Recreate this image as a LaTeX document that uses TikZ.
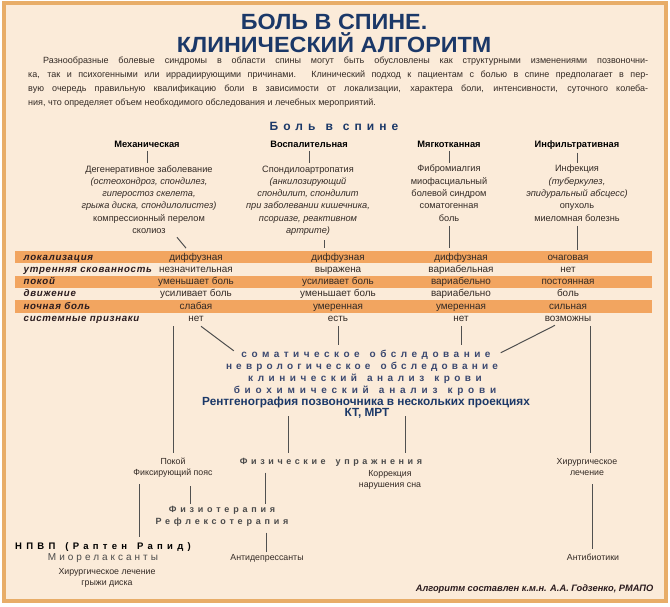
\documentclass[tikz,border=0pt]{standalone}
\usepackage{fontspec}
\setmainfont{Liberation Sans}
\newfontfamily\ttlfont[FakeStretch=1.06]{Liberation Sans}
\usetikzlibrary{calc}
\definecolor{bgc}{HTML}{FBEBD9}
\definecolor{framec}{HTML}{E8AD68}
\definecolor{bandc}{HTML}{F2A560}
\definecolor{navy}{HTML}{1B3868}
\definecolor{slate}{HTML}{3A4870}
\definecolor{ink}{HTML}{332A25}
\definecolor{lblc}{HTML}{2A1B1E}
\definecolor{linec}{HTML}{505050}
\definecolor{greyt}{HTML}{4A4A4A}
\newcommand{\LS}[2]{{\addfontfeature{LetterSpace=#1}#2}}
\newcommand{\fsz}[2]{\fontsize{#1}{#2}\selectfont}
\newcommand{\wg}{\hspace{10pt}}
\begin{document}
\begin{tikzpicture}[x=1pt,y=-1pt,
  every node/.style={inner sep=1.5pt},
  ttl/.style={anchor=base, font=\ttlfont\bfseries\fsz{22}{24}, text=navy},
  para/.style={anchor=base west, font=\fsz{9}{14}, text=ink, inner sep=0pt},
  cat/.style={anchor=base, font=\bfseries\fsz{9.3}{11}, text=black},
  desc/.style={anchor=base, font=\fsz{9.2}{12.3}, text=ink, align=center},
  rowlbl/.style={anchor=base west, font=\bfseries\itshape\fsz{9.7}{11}\addfontfeature{LetterSpace=7}, text=lblc},
  val/.style={anchor=base, font=\fsz{9.9}{11}, text=ink},
  exam/.style={anchor=base, font=\bfseries\fsz{10}{12}, text=slate},
  treat/.style={anchor=base, font=\fsz{8.8}{11.6}, text=ink, align=center},
  spc/.style={anchor=base, font=\bfseries\fsz{9}{12}, text=greyt, align=center},
  conn/.style={draw=linec, line width=1pt, shorten <=3pt, shorten >=3pt},
]
\useasboundingbox (0,0) rectangle (670,607);
\fill[white] (0,0) rectangle (670,607);
\fill[bgc] (4,3) rectangle (666,601);
\draw[framec, line width=4pt] (4,3) rectangle (666,601);

% title
\node[ttl] (t1) at (334,30) {БОЛЬ В СПИНЕ.};
\node[ttl] (t2) at (334,53) {КЛИНИЧЕСКИЙ АЛГОРИТМ};

% intro paragraph
\node[para] (p1) at (28,64) {\hspace*{15pt}\makebox[605pt][s]{Разнообразные болевые синдромы в области спины могут быть обусловлены как структурными изменениями позвоночни-}};
\node[para] (p2) at (28,78) {\makebox[620pt][s]{ка, так и психогенными или иррадиирующими причинами. Клинический подход к пациентам с болью в спине предполагает в пер-}};
\node[para] (p3) at (28,92) {\makebox[620pt][s]{вую очередь правильную квалификацию боли в зависимости от локализации, характера боли, интенсивности, суточного колеба-}};
\node[para] (p4) at (28,106) {ния, что определяет объем необходимого обследования и лечебных мероприятий.};

% heading
\node[anchor=base, font=\bfseries\fsz{12}{14}, text=navy] (pain) at (334,131) {\LS{42}{Боль\wg в\wg спине}};

% categories
\node[cat] (hm) at (147,148) {Механическая};
\node[cat] (hi) at (309,148) {Воспалительная};
\node[cat] (hs) at (449,148) {Мягкотканная};
\node[cat] (hf) at (577,148) {Инфильтративная};

% descriptions (base = last line)
\node[desc] (dm) at (149,233.5) {Дегенеративное заболевание\\ \textit{(остеохондроз, спондилез,}\\ \textit{гиперостоз скелета,}\\ \textit{грыжа диска, спондилолистез)}\\ компрессионный перелом\\ сколиоз};
\node[desc] (di) at (308,233.5) {Спондилоартропатия\\ \textit{(анкилозирующий}\\ \textit{спондилит, спондилит}\\ \textit{при заболевании кишечника,}\\ \textit{псориазе, реактивном}\\ \textit{артрите)}};
\node[desc] (ds) at (449,221.2) {Фибромиалгия\\ миофасциальный\\ болевой синдром\\ соматогенная\\ боль};
\node[desc] (df) at (577,221.2) {Инфекция\\ \textit{(туберкулез,}\\ \textit{эпидуральный абсцесс)}\\ опухоль\\ миеломная болезнь};

\draw[conn, shorten <=1pt, shorten >=1pt] (hm.south) -- (hm.south |- dm.north);
\draw[conn, shorten <=1pt, shorten >=1pt] (hi.south) -- (hi.south |- di.north);
\draw[conn, shorten <=1pt, shorten >=1pt] (hs.south) -- (hs.south |- ds.north);
\draw[conn, shorten <=1pt, shorten >=1pt] (hf.south) -- (hf.south |- df.north);

% table
\fill[bandc] (15,251) rectangle (652,263.3);
\fill[bandc] (15,275.6) rectangle (652,287.9);
\fill[bandc] (15,300.2) rectangle (652,312.5);

\node[rowlbl] (l1) at (22,260) {локализация};
\node[rowlbl] (l2) at (22,272.3) {утренняя скованность};
\node[rowlbl] (l3) at (22,284.6) {покой};
\node[rowlbl] (l4) at (22,296.9) {движение};
\node[rowlbl] (l5) at (22,309.2) {ночная боль};
\node[rowlbl] (l6) at (22,321.5) {системные признаки};

\node[val] (r1a) at (196,260) {диффузная};
\node[val] (r1b) at (338,260) {диффузная};
\node[val] (r1c) at (461,260) {диффузная};
\node[val] (r1d) at (568,260) {очаговая};
\node[val] (r2a) at (196,272.3) {незначительная};
\node[val] (r2b) at (338,272.3) {выражена};
\node[val] (r2c) at (461,272.3) {вариабельная};
\node[val] (r2d) at (568,272.3) {нет};
\node[val] (r3a) at (196,284.6) {уменьшает боль};
\node[val] (r3b) at (338,284.6) {усиливает боль};
\node[val] (r3c) at (461,284.6) {вариабельно};
\node[val] (r3d) at (568,284.6) {постоянная};
\node[val] (r4a) at (196,296.9) {усиливает боль};
\node[val] (r4b) at (338,296.9) {уменьшает боль};
\node[val] (r4c) at (461,296.9) {вариабельно};
\node[val] (r4d) at (568,296.9) {боль};
\node[val] (r5a) at (196,309.2) {слабая};
\node[val] (r5b) at (338,309.2) {умеренная};
\node[val] (r5c) at (461,309.2) {умеренная};
\node[val] (r5d) at (568,309.2) {сильная};
\node[val] (r6a) at (196,321.5) {нет};
\node[val] (r6b) at (338,321.5) {есть};
\node[val] (r6c) at (461,321.5) {нет};
\node[val] (r6d) at (568,321.5) {возможны};

\draw[conn, shorten <=0pt, shorten >=0pt] ([shift={(28,2)}]dm.south) -- ([shift={(-10,-3)}]r1a.north);
\draw[conn] (di.south -| 324,0) -- (324,0 |- r1b.north);
\draw[conn] (ds.south) -- (ds.south |- r1c.north);
\draw[conn] (df.south) -- (df.south |- r1d.north);

% examination block
\node[exam] (ex1) at (366,357) {\LS{45}{соматическое\wg обследование}};
\node[exam] (ex2) at (362,369) {\LS{42}{неврологическое\wg обследование}};
\node[exam] (ex3) at (365,381) {\LS{45}{клинический\wg анализ\wg крови}};
\node[exam] (ex4) at (365,393) {\LS{48}{биохимический\wg анализ\wg крови}};
\node[anchor=base, font=\bfseries\fsz{11.8}{12}, text=navy] (ex5) at (366,405) {Рентгенография позвоночника в нескольких проекциях};
\node[anchor=base, font=\bfseries\fsz{11.8}{12}, text=navy] (ex6) at (367,416.5) {КТ, МРТ};

\draw[conn, shorten <=0pt, shorten >=0pt] ([shift={(5,3)}]r6a.south) -- ([shift={(-6,-3.5)}]ex1.west);
\draw[conn] (r6b.south) -- (r6b.south |- ex1.north);
\draw[conn] (r6c.south) -- (r6c.south |- ex1.north);
\draw[conn, shorten <=0pt, shorten >=0pt] ([shift={(-13,2)}]r6d.south) -- ([shift={(8.5,-1.5)}]ex1.east);

% treatments (multi-line: base = last line)
\node[treat] (pokoy) at (173,475.6) {Покой\\ Фиксирующий пояс};
\node[spc] (fiz) at (331,464) {\LS{40}{Физические\wg упражнения}};
\node[treat] (korr) at (390,487.6) {Коррекция\\ нарушения сна};
\node[treat] (hir) at (587,475.6) {Хирургическое\\ лечение};
\node[spc] (fizio) at (222,524) {\LS{42}{Физиотерапия}\\ \LS{42}{Рефлексотерапия}};
\node[anchor=base, font=\bfseries\fsz{9.5}{12}, text=black] (npvp) at (103,549) {\LS{45}{НПВП\wg (Раптен\wg Рапид)}};
\node[anchor=base, font=\fsz{10}{12}, text=greyt] (mio) at (103,560) {\LS{30}{Миорелаксанты}};
\node[treat] (hl) at (107,585.6) {Хирургическое лечение\\ грыжи диска};
\node[treat] (antid) at (267,560) {Антидепрессанты};
\node[treat] (antib) at (593,560) {Антибиотики};
\node[anchor=base east, font=\bfseries\itshape\fsz{9.3}{11}, text=lblc] (foot) at (655,591) {Алгоритм составлен к.м.н. А.А. Годзенко, РМАПО};

\draw[conn] (173,0 |- r6a.south) -- (pokoy.north);
\draw[conn] (590,0 |- r6d.south) -- (590,0 |- hir.north);
\draw[conn, shorten <=7pt] (288,0 |- ex5.south) -- (288,0 |- fiz.north);
\draw[conn, shorten <=7pt] (405,0 |- ex5.south) -- (405,0 |- fiz.north);
\draw[conn, shorten <=7pt, shorten >=0.5pt] (190,0 |- pokoy.south) -- (190,0 |- fizio.north);
\draw[conn, shorten <=5pt, shorten >=0.5pt] (265,0 |- fiz.south) -- (265,0 |- fizio.north);
\draw[conn, shorten <=5pt] (139,0 |- pokoy.south) -- (139,0 |- npvp.north);
\draw[conn, shorten <=5pt, shorten >=0pt] (266,0 |- fizio.south) -- (266,0 |- antid.north);
\draw[conn, shorten <=7pt] (592,0 |- hir.south) -- (592,0 |- antib.north);
\end{tikzpicture}
\end{document}
